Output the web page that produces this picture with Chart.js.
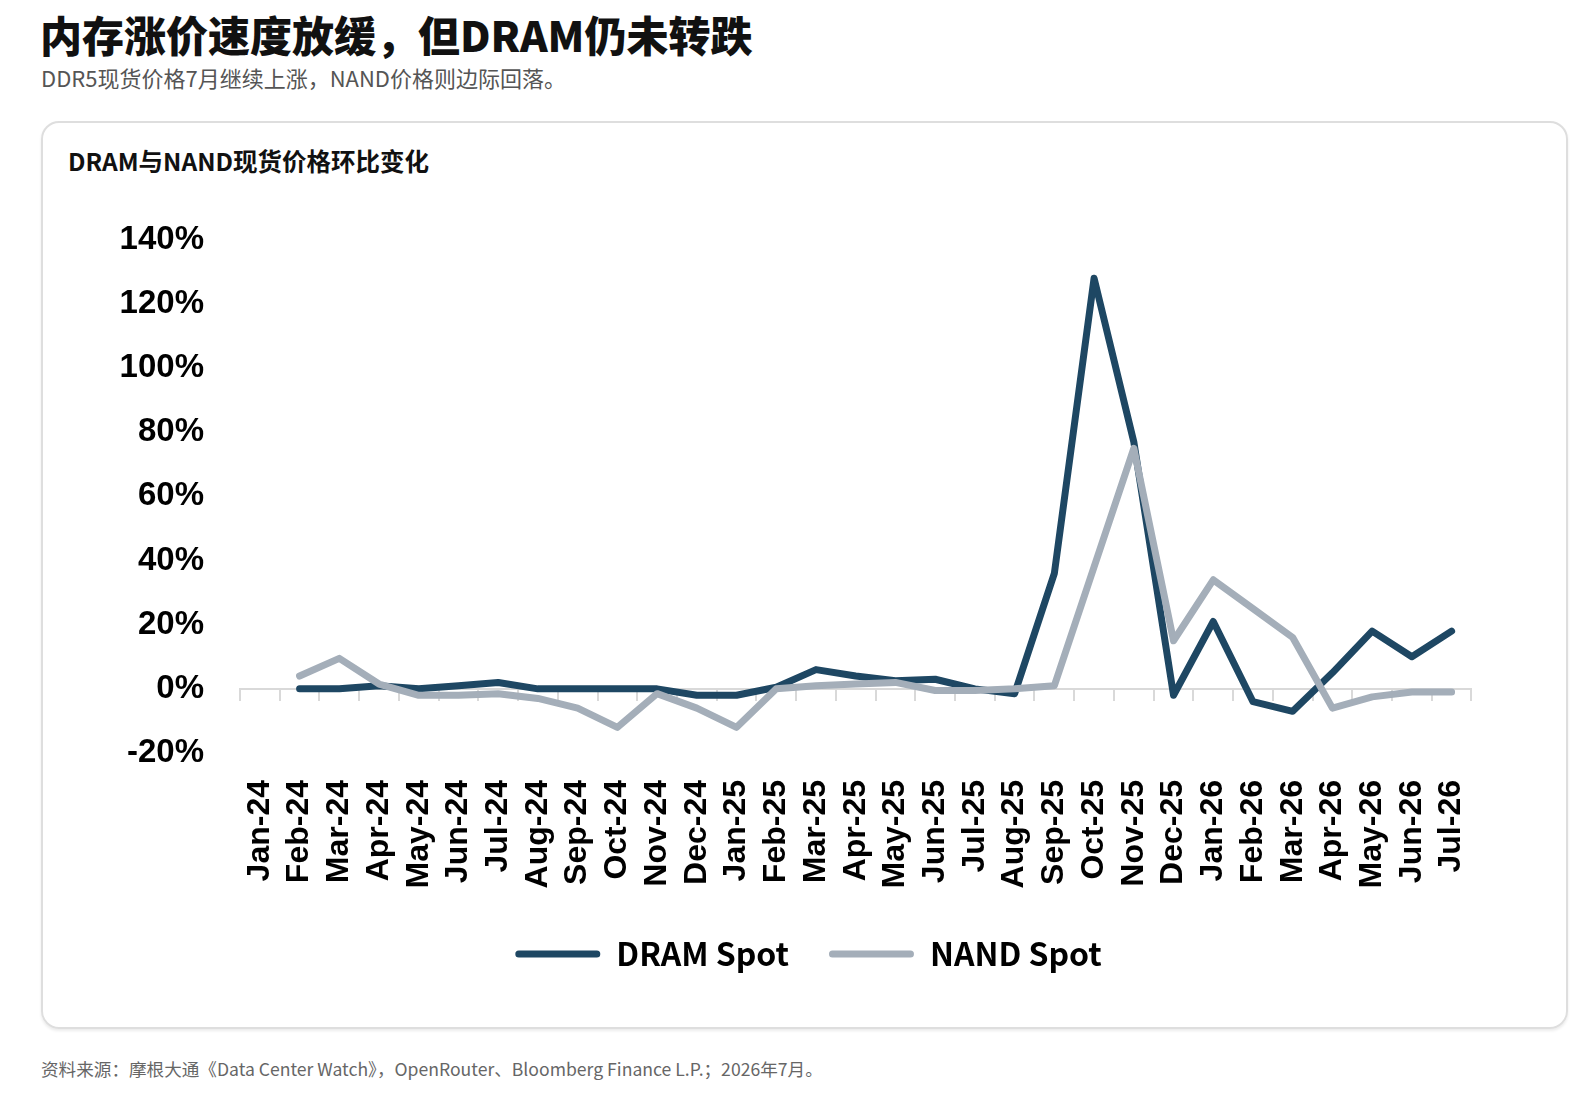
<!DOCTYPE html>
<html>
<head>
<meta charset="utf-8">
<script src="https://cdn.jsdelivr.net/npm/chart.js@4/dist/chart.umd.min.js"></script>
<style>
  body { margin: 0; width: 1596px; height: 1104px; background: #fff; position: relative; font-family: "Noto Sans CJK SC", sans-serif; }
  .title { position: absolute; left: 40px; top: 8px; font-size: 42px; line-height: 52px; font-weight: 900; color: #111; }
  .subtitle { position: absolute; left: 41px; top: 63px; font-size: 22px; line-height: 28px; color: #555; }
  .card { position: absolute; left: 41px; top: 121px; width: 1523px; height: 904px; border: 2px solid #dedede; border-radius: 18px; box-shadow: 0 2px 3px rgba(0,0,0,0.08); }
  .card-title { position: absolute; left: 68px; top: 144px; font-size: 24.5px; line-height: 34px; font-weight: 700; color: #111; }
  .source { position: absolute; left: 41px; top: 1057px; font-size: 17.6px; line-height: 24px; color: #666; }
  #chart { position: absolute; left: 100px; top: 184px; }
</style>
</head>
<body>
<div class="title">内存涨价速度放缓，但DRAM仍未转跌</div>
<div class="subtitle">DDR5现货价格7月继续上涨，NAND价格则边际回落。</div>
<div class="card"></div>
<div class="card-title">DRAM与NAND现货价格环比变化</div>
<canvas id="chart" width="1417" height="816"></canvas>
<div class="source">资料来源：摩根大通《Data Center Watch》，OpenRouter、Bloomberg Finance L.P.；2026年7月。</div>
<script>
var months = ['Jan-24', 'Feb-24', 'Mar-24', 'Apr-24', 'May-24', 'Jun-24', 'Jul-24', 'Aug-24', 'Sep-24', 'Oct-24', 'Nov-24', 'Dec-24',
              'Jan-25', 'Feb-25', 'Mar-25', 'Apr-25', 'May-25', 'Jun-25', 'Jul-25', 'Aug-25', 'Sep-25', 'Oct-25', 'Nov-25', 'Dec-25',
              'Jan-26', 'Feb-26', 'Mar-26', 'Apr-26', 'May-26', 'Jun-26', 'Jul-26'];
// month-on-month change, %
var dramSpot = [null, 0, 0, 1, 0, 1, 2, 0, 0, 0, 0, -2, -2, 0.5, 6, 4, 2.5, 3, 0, -1.5, 36, 128, 77, -2, 21, -4, -7, 5, 18, 10, 18];
var nandSpot = [null, 4, 9.5, 1.5, -2, -2, -1.5, -3, -6, -12, -1.5, -6, -12, 0, 1, 1.5, 2, -0.5, -0.5, 0, 1, 38, 75, 15, 34, 25, 16, -6, -2.5, -1, -1];
var yTicks = [-20, 0, 20, 40, 60, 80, 100, 120, 140];

var DRAM_COLOR = '#1e4763';
var NAND_COLOR = '#a4aeb9';
var yFont = { family: '"Liberation Sans", Arial, sans-serif', weight: 'bold', size: 33 };
var xFont = { family: '"Liberation Sans", Arial, sans-serif', weight: 'bold', size: 32 };

var ctx = document.getElementById('chart').getContext('2d');
var chart = new Chart(ctx, {
    type: 'line',
    data: {
        labels: months,
        datasets: [{
            label: 'DRAM Spot',
            data: dramSpot,
            borderColor: DRAM_COLOR,
            backgroundColor: DRAM_COLOR,
            borderWidth: 7,
            borderCapStyle: 'round',
            borderJoinStyle: 'round',
            pointRadius: 0,
            order: 2
        }, {
            label: 'NAND Spot',
            data: nandSpot,
            borderColor: NAND_COLOR,
            backgroundColor: NAND_COLOR,
            borderWidth: 7,
            borderCapStyle: 'round',
            borderJoinStyle: 'round',
            pointRadius: 0,
            order: 1
        }]
    },
    options: {
        responsive: false,
        animation: false,
        devicePixelRatio: 1,
        layout: { padding: { top: 0, right: 0, bottom: 20, left: 0 } },
        plugins: {
            tooltip: { enabled: false },
            legend: {
                position: 'bottom',
                labels: {
                    color: '#000',
                    font: { family: '"Noto Sans CJK SC", sans-serif', weight: 'bold', size: 32 },
                    boxWidth: 85,
                    boxHeight: 7,
                    padding: 40,
                    useBorderRadius: true,
                    borderRadius: 3.5,
                    sort: function(a, b) { return a.datasetIndex - b.datasetIndex; },
                    generateLabels: function(c) {
                        var items = Chart.defaults.plugins.legend.labels.generateLabels(c);
                        items.forEach(function(it) { it.lineWidth = 0; });
                        return items;
                    }
                }
            }
        },
        scales: {
            x: {
                offset: true,
                grid: { display: false, drawTicks: false },
                border: { display: false },
                ticks: { autoSkip: false, minRotation: 90, maxRotation: 90, padding: 27, color: '#000', font: xFont },
                afterFit: function(s) { s.height = 145; }
            },
            x2: {
                type: 'category',
                labels: months,
                position: { y: 0 },
                offset: true,
                grid: { offset: true, drawOnChartArea: false, tickLength: 11, color: '#d9d9d9', lineWidth: 2 },
                border: { color: '#d9d9d9', width: 2 },
                ticks: { display: false }
            },
            y: {
                min: yTicks[0],
                max: yTicks[yTicks.length - 1],
                afterBuildTicks: function(s) { s.ticks = yTicks.map(function(v) { return { value: v }; }); },
                ticks: { padding: 36, color: '#000', font: yFont, callback: function(v) { return v + '%'; } },
                grid: { display: false, drawTicks: false },
                border: { display: false },
                afterFit: function(s) { s.width = 140; }
            }
        }
    }
});
</script>
</body>
</html>
